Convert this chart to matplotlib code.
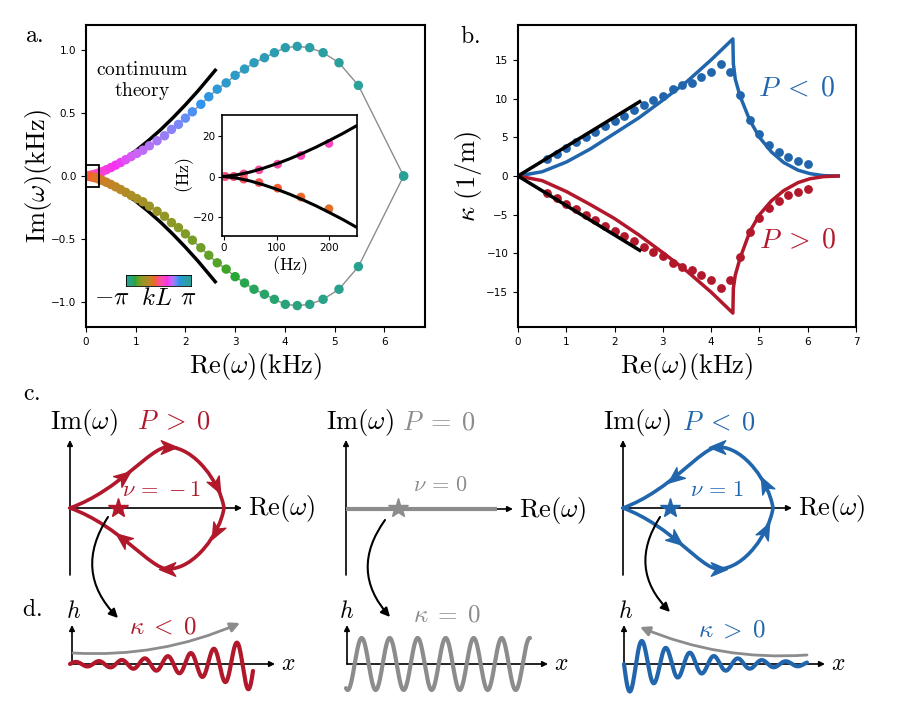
import numpy as np
import matplotlib
matplotlib.use('Agg')
import matplotlib.pyplot as plt
from matplotlib.path import Path
from matplotlib.patches import PathPatch, Rectangle, FancyArrowPatch
from matplotlib.markers import MarkerStyle
from matplotlib.transforms import Affine2D
from matplotlib.colors import ListedColormap
from seaborn.external import husl

plt.rcParams['mathtext.fontset'] = 'cm'
plt.rcParams['axes.linewidth'] = 1.5

RED = '#b2182b'
BLUE = '#2166ac'
GREY = '#8c8c8c'

# ---- panel a: complex frequencies in kHz, kL > 0 branch (upper) and kL < 0 branch (lower)
re_upper = [0.003, 0.019, 0.038, 0.067, 0.102, 0.146, 0.199, 0.26, 0.33, 0.41, 0.50, 0.595,
            0.695, 0.80, 0.91, 1.025, 1.145, 1.275, 1.43, 1.58, 1.72, 1.86, 2.00, 2.14, 2.31,
            2.47, 2.64, 2.82, 3.00, 3.19, 3.38, 3.59, 3.79, 4.01, 4.25, 4.50, 4.77, 5.09, 5.48, 6.39]
im_upper = [0.0, 0.0, 0.0013, 0.0033, 0.0061, 0.0104, 0.0164, 0.025, 0.036, 0.05, 0.067, 0.086,
            0.107, 0.13, 0.155, 0.18, 0.205, 0.24, 0.28, 0.32, 0.37, 0.41, 0.46, 0.51, 0.57,
            0.63, 0.69, 0.74, 0.80, 0.85, 0.90, 0.94, 0.98, 1.02, 1.03, 1.02, 0.98, 0.90, 0.72, 0.0]
re_lower = [0.003, 0.019, 0.038, 0.067, 0.102, 0.146, 0.199, 0.26, 0.33, 0.41, 0.50, 0.595,
            0.695, 0.80, 0.91, 1.025, 1.145, 1.275, 1.43, 1.58, 1.72, 1.86, 2.00, 2.14, 2.31,
            2.47, 2.64, 2.82, 3.00, 3.19, 3.38, 3.59, 3.79, 4.01, 4.25, 4.50, 4.77, 5.09, 5.48, 6.39]
im_lower = [0.0, 0.0, -0.0013, -0.003, -0.0058, -0.0102, -0.016, -0.025, -0.036, -0.05, -0.067, -0.086,
            -0.107, -0.13, -0.155, -0.18, -0.205, -0.24, -0.28, -0.32, -0.37, -0.41, -0.46, -0.51, -0.57,
            -0.63, -0.69, -0.74, -0.80, -0.85, -0.90, -0.94, -0.98, -1.02, -1.03, -1.02, -0.98, -0.90, -0.72, 0.0]
kl_upper = np.linspace(0, np.pi, len(re_upper))
kl_lower = np.linspace(0, -np.pi, len(re_lower))

# continuum theory (kHz) and its zoom (Hz)
cont_re = [0.0, 0.25, 0.5, 0.75, 1.0, 1.25, 1.5, 1.75, 2.0, 2.25, 2.6]
cont_im_up = [0.0, 0.025, 0.071, 0.13, 0.2, 0.28, 0.367, 0.463, 0.566, 0.675, 0.84]
cont_im_dn = [0.0, -0.025, -0.071, -0.13, -0.2, -0.28, -0.367, -0.463, -0.566, -0.675, -0.84]
zoom_re = [0, 25, 50, 75, 100, 125, 150, 175, 200, 225, 250]
zoom_im_up = [0.0, 0.8, 2.2, 4.1, 6.3, 8.8, 11.6, 14.6, 17.9, 21.3, 25.0]
zoom_im_dn = [0.0, -0.8, -2.2, -4.1, -6.3, -8.8, -11.6, -14.6, -17.9, -21.3, -25.0]
n_zoom = 7

# ---- panel b: spatial decay rate kappa (1/m)
b_re = [0.6, 0.8, 1.0, 1.2, 1.4, 1.6, 1.8, 2.0, 2.2, 2.4, 2.6, 2.8, 3.0, 3.2, 3.4, 3.6, 3.8, 4.0,
        4.2, 4.4, 4.6, 4.8, 5.0, 5.2, 5.4, 5.6, 5.8, 6.0]
kappa_neg_P = [2.19, 2.88, 3.65, 4.34, 5.03, 5.72, 6.4, 7.05, 7.78, 8.47, 9.11, 9.76, 10.3, 11.2,
               11.7, 12.0, 12.8, 13.4, 14.4, 13.4, 10.5, 7.27, 5.42, 4.04, 3.1, 2.45, 1.98, 1.6]
kappa_pos_P = [-2.19, -2.9, -3.65, -4.3, -5.03, -5.72, -6.4, -7.05, -7.78, -8.45, -9.11, -9.8, -10.3,
               -11.2, -11.7, -12.1, -12.8, -13.4, -14.4, -13.4, -10.5, -7.2, -5.4, -4.1, -3.2, -2.5,
               -2.06, -1.7]
theory_re = [0.0, 0.5, 1.0, 1.5, 2.0, 2.5, 3.0, 3.5, 4.0, 4.45, 4.46, 4.5, 4.6, 4.8, 5.0, 5.25,
             5.5, 5.8, 6.05, 6.33, 6.63]
theory_neg_P = [0.0, 0.55, 1.8, 3.5, 5.5, 7.5, 9.8, 12.2, 15.0, 17.7, 14.5, 12.5, 10.3, 7.2, 5.0,
                3.1, 1.75, 0.75, 0.3, 0.05, 0.0]
theory_pos_P = [0.0, -0.6, -2.0, -3.7, -5.5, -7.6, -9.9, -12.3, -15.0, -17.7, -14.5, -12.8, -10.6,
                -7.2, -5.0, -3.2, -1.9, -0.85, -0.35, -0.08, 0.0]
slope_re = [0.0, 2.52]
slope_up = [0.0, 9.6]
slope_dn = [0.0, -9.6]

# ---- panels c, d: schematic, three columns (P > 0, P = 0, P < 0)
col_colors = [RED, GREY, BLUE]
col_P = [r'$P\;>\;0$', r'$P\;=\;0$', r'$P\;<\;0$']
col_nu = [r'$\nu\,=\,-1$', r'$\nu\,=\,0$', r'$\nu\,=\,1$']
col_kappa = [r'$\kappa\;<\;0$', r'$\kappa\;=\;0$', r'$\kappa\;>\;0$']
col_winding = [-1, 0, 1]
wave_kappa = [0.0145, 0.0, -0.0148]


def kl_color(kl):
    h = (-kl / np.pi * 180.0) % 360.0
    return tuple(np.clip(husl.husl_to_rgb(h, 92, 60), 0, 1))


fig = plt.figure(figsize=(9.1, 7.03), dpi=100)

# panel a
ax_a = fig.add_axes([86 / 910, 1 - 327 / 703, 339 / 910, 302 / 703])
ax_a.plot(re_upper, im_upper, color=GREY, lw=1, zorder=1)
ax_a.plot(re_lower, im_lower, color=GREY, lw=1, zorder=1)
ax_a.plot(cont_re, cont_im_up, color='k', lw=2.5, zorder=1.5)
ax_a.plot(cont_re, cont_im_dn, color='k', lw=2.5, zorder=1.5)
ax_a.scatter(re_upper, im_upper, c=[kl_color(k) for k in kl_upper], s=46, lw=0, zorder=2)
ax_a.scatter(re_lower, im_lower, c=[kl_color(k) for k in kl_lower], s=46, lw=0, zorder=2)
ax_a.add_patch(Rectangle((0, -0.085), 0.27, 0.175, fill=False, ec='k', lw=1.3, zorder=4, clip_on=False))
ax_a.set_xlim(0, 6.82)
ax_a.set_ylim(-1.2, 1.2)
ax_a.set_xticks(range(7))
ax_a.set_yticks([-1.0, -0.5, 0.0, 0.5, 1.0])
ax_a.tick_params(labelsize=7.5, length=3.5, width=0.8)
ax_a.set_xlabel(r'$\mathrm{Re}(\omega)(\mathrm{kHz})$', fontsize=19, labelpad=3)
ax_a.set_ylabel(r'$\mathrm{Im}(\omega)(\mathrm{kHz})$', fontsize=19, labelpad=-2)
ax_a.text(1.13, 0.756, r'$\mathrm{continuum}$' + '\n' + r'$\mathrm{theory}$', fontsize=14,
          ha='center', va='center', linespacing=1.1)

# inset
ax_in = fig.add_axes([222 / 910, 1 - 236 / 703, 135 / 910, 121 / 703])
zr = [v * 1000 for v in re_upper[:n_zoom]]
ax_in.scatter(zr, [v * 1000 for v in im_upper[:n_zoom]],
              c=[kl_color(k) for k in kl_upper[:n_zoom]], s=40, lw=0, zorder=2)
ax_in.scatter(zr, [v * 1000 for v in im_lower[:n_zoom]],
              c=[kl_color(k) for k in kl_lower[:n_zoom]], s=40, lw=0, zorder=2)
ax_in.plot(zoom_re, zoom_im_up, color='k', lw=2.2, zorder=3)
ax_in.plot(zoom_re, zoom_im_dn, color='k', lw=2.2, zorder=3)
ax_in.set_xlim(-3, 252)
ax_in.set_ylim(-29.5, 30.5)
ax_in.set_xticks([0, 100, 200])
ax_in.set_yticks([-20, 0, 20])
ax_in.tick_params(labelsize=7.5, length=3, width=0.8, pad=2)
for s in ax_in.spines.values():
    s.set_linewidth(1.2)
ax_in.set_xlabel(r'$(\mathrm{Hz})$', fontsize=13, labelpad=1)
ax_in.set_ylabel(r'$(\mathrm{Hz})$', fontsize=13)
ax_in.yaxis.set_label_coords(-0.19, 0.5)

# kL colour bar
cmap = ListedColormap([kl_color(k) for k in np.linspace(-np.pi, np.pi, 256)])
ax_cb = fig.add_axes([126 / 910, 1 - 286 / 703, 65 / 910, 11 / 703])
ax_cb.imshow(np.linspace(-np.pi, np.pi, 256)[None, :], aspect='auto', cmap=cmap)
ax_cb.set_xticks([])
ax_cb.set_yticks([])
for s in ax_cb.spines.values():
    s.set_linewidth(0.6)

# panel b
ax_b = fig.add_axes([518 / 910, 1 - 327 / 703, 338 / 910, 302 / 703])
ax_b.plot(theory_re, theory_neg_P, color=BLUE, lw=2.5, zorder=2)
ax_b.plot(theory_re, theory_pos_P, color=RED, lw=2.5, zorder=2)
ax_b.scatter(b_re, kappa_neg_P, color=BLUE, s=40, lw=0, zorder=3)
ax_b.scatter(b_re, kappa_pos_P, color=RED, s=40, lw=0, zorder=3)
ax_b.plot(slope_re, slope_up, color='k', lw=2.5, zorder=4)
ax_b.plot(slope_re, slope_dn, color='k', lw=2.5, zorder=4)
ax_b.set_xlim(0, 7)
ax_b.set_ylim(-19.5, 19.5)
ax_b.set_xticks(range(8))
ax_b.set_yticks([-15, -10, -5, 0, 5, 10, 15])
ax_b.tick_params(labelsize=7.5, length=3.5, width=0.8)
ax_b.set_xlabel(r'$\mathrm{Re}(\omega)(\mathrm{kHz})$', fontsize=19, labelpad=3)
ax_b.set_ylabel(r'$\kappa\ (1/\mathrm{m})$', fontsize=19, labelpad=2)
ax_b.text(5.78, 11.4, r'$P\;<\;0$', color=BLUE, fontsize=20, ha='center', va='center')
ax_b.text(5.8, -8.3, r'$P\;>\;0$', color=RED, fontsize=20, ha='center', va='center')

# ---- overlay in pixel units (y up) for panel letters and schematics
ov = fig.add_axes([0, 0, 1, 1])
ov.set_xlim(0, 910)
ov.set_ylim(0, 703)
ov.axis('off')

for lab, x, y in [('a.', 34, 668), ('b.', 470, 667), ('c.', 32, 310), ('d.', 32, 94)]:
    ov.text(x, y, r'$\mathrm{%s}$' % lab, fontsize=17, ha='center', va='center')
ov.text(112, 407, r'$-\pi$', fontsize=18, ha='center', va='center')
ov.text(157, 405, r'$kL$', fontsize=18, ha='center', va='center')
ov.text(188, 407, r'$\pi$', fontsize=18, ha='center', va='center')

LOOP = [(0, 0), (0.325, 0.295), (0.52, 1), (0.636, 1), (0.81, 1), (0.975, 0.41), (1, 0)]


def bez(p, t):
    p = np.asarray(p, float)
    b = (1 - t) ** 3 * p[0] + 3 * (1 - t) ** 2 * t * p[1] + 3 * (1 - t) * t ** 2 * p[2] + t ** 3 * p[3]
    d = 3 * (1 - t) ** 2 * (p[1] - p[0]) + 6 * (1 - t) * t * (p[2] - p[1]) + 3 * t ** 2 * (p[3] - p[2])
    return b, d


def stealth(angle):
    verts = [(1, 0), (-0.8, 0.75), (-0.3, 0), (-0.8, -0.75), (1, 0)]
    codes = [Path.MOVETO, Path.LINETO, Path.LINETO, Path.LINETO, Path.CLOSEPOLY]
    return MarkerStyle(Path(verts, codes), transform=Affine2D().rotate_deg(angle))


def arrow(p0, p1, color='k', lw=1.2, ms=8, rad=0.0):
    ov.add_patch(FancyArrowPatch(p0, p1, arrowstyle='-|>', mutation_scale=ms, lw=lw,
                                 color=color, connectionstyle='arc3,rad=%g' % rad,
                                 shrinkA=0, shrinkB=0))


origins_c = [(70, 195), (346, 194), (623, 195)]
re_ends = [242, 513, 792]
loop_w = [154, 0, 150]
p_label_x = [174, 439, 719]
nu_pos = [(162, 213), (440, 218), (717, 213)]
stars = [(118, 195), (398, 195), (670, 195)]
origins_d = [(72, 39), (347, 39), (624, 39)]
x_ends = [275, 548, 825]
kappa_pos = [(163, 76), (447, 88), (732, 73)]
wave_span = [(70, 253), (346, 530), (624, 807)]
wave_len = [23, 28, 24]
curl = [((108, 186), (118, 85)), ((385, 183), (390, 86)), ((660, 186), (670, 91))]

for i in range(3):
    ox, oy = origins_c[i]
    col = col_colors[i]
    # Im / Re axes
    arrow((ox, 128), (ox, 263))
    arrow((ox, oy), (re_ends[i], oy))
    ov.text(ox + 14, 281, r'$\mathrm{Im}(\omega)$', fontsize=19, ha='center', va='center')
    ov.text(p_label_x[i], 281, col_P[i], color=col, fontsize=19, ha='center', va='center')
    ov.text(re_ends[i] + 6, oy - 1, r'$\mathrm{Re}(\omega)$', fontsize=19, ha='left', va='center')
    ov.text(*nu_pos[i], col_nu[i], color=col, fontsize=16, ha='center', va='center')

    if col_winding[i] == 0:
        ov.plot([ox, 497], [oy, oy], color=GREY, lw=3, solid_capstyle='butt')
    else:
        w, h = loop_w[i], 61
        up = [(ox + u * w, oy + v * h) for u, v in LOOP]
        dn = [(ox + u * w, oy - v * h) for u, v in LOOP[::-1]]
        codes = [Path.MOVETO] + [Path.CURVE4] * 12
        ov.add_patch(PathPatch(Path(up + dn[1:], codes), fill=False, ec=col, lw=2.6,
                               capstyle='round', joinstyle='round'))
        sense = -col_winding[i]
        for seg, t in [(0, 0.42), (0, 1.0), (1, 0.72)]:
            for m in (1, -1):
                ctrl = [(ox + u * w, oy + m * v * h) for u, v in LOOP[3 * seg:3 * seg + 4]]
                pos, d = bez(ctrl, t)
                ang = np.degrees(np.arctan2(d[1], d[0]))
                if sense * m < 0:
                    ang += 180
                ov.plot(pos[0], pos[1], marker=stealth(ang), ms=13, color=col, zorder=5)
    ov.plot(*stars[i], marker='*', ms=15, color=col, mec=col, zorder=6)
    arrow(curl[i][0], curl[i][1], lw=1.5, ms=13, rad=0.4)

    # panel d
    dx, dy = origins_d[i]
    arrow((dx, dy), (dx, 78))
    arrow((dx, dy), (x_ends[i], dy))
    ov.text(dx + 2 - 2 * (i == 1), 92, r'$h$', fontsize=17, ha='center', va='center')
    ov.text(x_ends[i] + 13, 40, r'$x$', fontsize=17, ha='center', va='center')
    ov.text(*kappa_pos[i], col_kappa[i], color=col, fontsize=18, ha='center', va='center')
    x0, x1 = wave_span[i]
    xs = np.linspace(x0, x1, 600)
    lam = wave_len[i]
    k = wave_kappa[i]
    if col_winding[i] < 0:
        hh = 27 * np.exp(k * (xs - x1)) * np.sin(2 * np.pi * (xs - 230.95) / lam)
        arrow((73, 50), (240, 80), color=GREY, lw=2, ms=14, rad=0.12)
    elif col_winding[i] == 0:
        hh = 26 * np.sin(2 * np.pi * (xs - 354.7) / lam)
    else:
        hh = -30 * np.exp(k * (xs - x0)) * np.sin(2 * np.pi * (xs - x0) / lam)
        arrow((807, 48), (640, 76), color=GREY, lw=2, ms=14, rad=-0.12)
    ov.plot(xs, dy + hh, color=col, lw=3, solid_capstyle='round', zorder=4)

fig.savefig('out.png', dpi=100)
